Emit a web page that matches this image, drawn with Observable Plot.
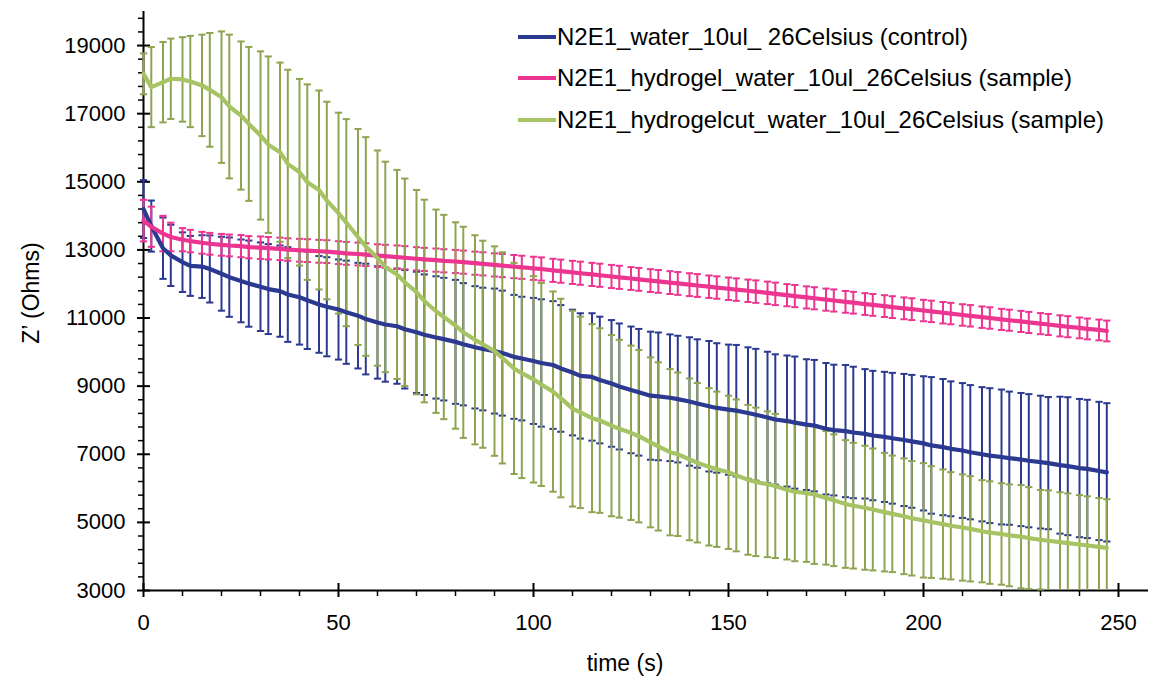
<!DOCTYPE html>
<html><head><meta charset="utf-8">
<script src="https://cdn.jsdelivr.net/npm/d3@7"></script>
<script src="https://cdn.jsdelivr.net/npm/@observablehq/plot@0.6"></script>
<style>
body{margin:0;background:#fff;}
#wrap{position:relative;width:1151px;height:683px;font-family:"Liberation Sans",Arial,sans-serif;color:#000;}
.lg{position:absolute;left:518px;height:24px;font-size:24px;line-height:24px;white-space:nowrap;display:flex;align-items:center;}
.lg .sw{display:inline-block;width:38px;height:4px;margin-right:1px;}
.ttl{position:absolute;font-size:23px;line-height:23px;white-space:nowrap;}
</style></head><body><div id="wrap"></div>
<script>
// ---- data ----
const time = [0,2,5,7,10,12,15,17,20,22,25,27,30,32,35,37,40,42,45,47,50,52,55,57,60,62,65,67,70,72,75,77,80,82,85,87,90,92,95,97,100,102,105,107,110,112,115,117,120,122,125,127,130,132,135,137,140,142,145,147,150,152,155,157,160,162,165,167,170,172,175,177,180,182,185,187,190,192,195,197,200,202,205,207,210,212,215,217,220,222,225,227,230,232,235,237,240,242,245,247];

const controlMean = [14200,13700,13050,12840,12640,12530,12510,12440,12300,12200,12090,12010,11920,11850,11790,11690,11610,11520,11400,11330,11250,11170,11070,10970,10870,10810,10760,10670,10580,10510,10430,10380,10300,10230,10140,10090,10030,9970,9860,9810,9740,9680,9620,9520,9400,9300,9270,9180,9080,8990,8890,8820,8720,8700,8660,8620,8550,8490,8410,8360,8310,8280,8210,8160,8080,8020,7975,7930,7870,7840,7750,7710,7680,7640,7600,7550,7510,7470,7420,7380,7320,7260,7210,7160,7110,7060,7000,6960,6920,6885,6845,6810,6770,6740,6680,6650,6595,6570,6510,6470];
const controlErr = [850,750,900,900,875,880,920,985,1085,1165,1215,1265,1300,1320,1340,1390,1390,1430,1420,1455,1470,1515,1550,1625,1650,1680,1690,1740,1780,1770,1795,1800,1820,1795,1795,1800,1835,1835,1820,1815,1850,1870,1875,1860,1845,1840,1870,1860,1860,1850,1860,1860,1880,1875,1860,1860,1885,1885,1915,1900,1910,1930,1930,1935,1930,1915,1925,1940,1920,1930,1930,1920,1940,1930,1900,1900,1910,1920,1940,1950,1970,2005,2000,1980,1980,1970,1970,1980,1980,1955,1955,1955,1950,1940,2010,2025,2030,2030,2030,2030];

const hydrogelMean = [13860,13680,13480,13380,13300,13260,13210,13180,13150,13130,13110,13080,13065,13050,13030,13010,12990,12980,12960,12950,12920,12900,12880,12860,12830,12815,12790,12770,12740,12720,12700,12680,12660,12640,12610,12590,12560,12540,12510,12490,12460,12440,12400,12375,12340,12315,12280,12255,12220,12195,12160,12135,12100,12075,12040,12015,11980,11955,11920,11895,11860,11835,11800,11775,11740,11710,11670,11645,11605,11580,11540,11515,11475,11450,11410,11385,11350,11320,11285,11260,11220,11195,11155,11130,11090,11065,11025,11000,10960,10935,10900,10870,10835,10810,10770,10745,10710,10680,10650,10620];
const hydrogelErr = [610,590,520,420,340,330,320,320,320,320,325,325,330,330,330,330,335,335,335,335,335,335,335,335,335,335,340,340,340,340,340,340,340,340,340,340,340,340,340,340,340,340,340,340,340,340,340,340,340,340,335,335,335,335,335,335,335,335,330,330,330,330,330,330,330,330,325,325,325,325,325,325,320,320,320,320,320,320,320,320,315,315,315,315,315,315,315,315,310,310,310,310,310,310,310,310,305,305,305,305];

const hydrogelcutMean = [18170,17780,17925,18025,18005,17945,17830,17700,17485,17210,16945,16700,16360,16090,15870,15525,15280,14990,14760,14450,14080,13800,13380,13100,12760,12500,12280,12050,11760,11500,11200,11030,10780,10580,10360,10230,10030,9830,9520,9380,9200,9050,8840,8650,8340,8230,8060,7990,7840,7750,7630,7530,7350,7230,7060,7000,6850,6750,6630,6560,6470,6380,6250,6190,6120,6070,5960,5900,5860,5820,5720,5650,5540,5490,5430,5380,5300,5250,5180,5120,5060,5010,4950,4900,4850,4810,4740,4700,4660,4620,4580,4540,4490,4460,4420,4390,4350,4320,4280,4250];
const hydrogelcutErr = [600,1175,1180,1180,1240,1340,1490,1670,1930,2110,2175,2260,2470,2590,2630,2765,2740,2870,2920,2900,2950,3040,3170,3210,3160,3090,3070,3045,3000,2975,2985,3000,3030,3100,3070,3040,3075,3100,3100,3080,3030,2980,2940,2915,2875,2810,2760,2710,2660,2610,2560,2530,2495,2470,2440,2400,2375,2340,2310,2280,2250,2230,2200,2180,2140,2115,2050,2040,2020,2040,1960,1935,1875,1845,1820,1790,1740,1710,1700,1680,1680,1640,1605,1575,1560,1545,1500,1505,1490,1495,1515,1495,1460,1480,1465,1460,1450,1445,1435,1430];

const seriesNames = ["N2E1_water_10ul_ 26Celsius (control)", "N2E1_hydrogel_water_10ul_26Celsius (sample)", "N2E1_hydrogelcut_water_10ul_26Celsius (sample)"];
const lineColors = ["#2b3990", "#ec3590", "#a6c463"];
const barColors = ["#2b3990", "#ec3590", "#8ea451"];
const xTicks = [0, 50, 100, 150, 200, 250];
const yTicks = [3000, 5000, 7000, 9000, 11000, 13000, 15000, 17000, 19000];
const xTitle = "time (s)";
const yTitle = "Z’ (Ohms)";

// ---- build ----
const means = [controlMean, hydrogelMean, hydrogelcutMean];
const errs = [controlErr, hydrogelErr, hydrogelcutErr];
const yMin = 3000, yMax = 20000;
const rows = seriesNames.map((name, k) => time.map((t, i) => ({k, t, m: means[k][i], e: errs[k][i]})));
const caps = rows.map(r => r.flatMap(d => [{t: d.t, v: d.m + d.e}, {t: d.t, v: d.m - d.e}]).filter(c => c.v >= yMin && c.v <= yMax));
const capSymbol = {draw(ctx, size) { const w = Math.sqrt(size / Math.PI); ctx.moveTo(-w, 0); ctx.lineTo(w, 0); }};
const xMinor = d3.range(10, 251, 10).filter(v => v % 50 !== 0);
const yMinor = d3.range(3400, 20000, 400).filter(v => (v - 3000) % 2000 !== 0);

const marks = [
  Plot.ruleY([yMin], {stroke: "#000", strokeWidth: 2}),
  Plot.ruleX([0], {stroke: "#000", strokeWidth: 2}),
  Plot.axisY({ticks: yTicks, tickSize: 13, dx: 7, fill: "none", stroke: "#000", strokeWidth: 2, label: null}),
  Plot.axisY({ticks: yMinor, tickSize: 6, dx: 1, fill: "none", stroke: "#000", strokeWidth: 1.5, label: null}),
  Plot.axisY({ticks: yTicks, tickSize: 0, tickPadding: 18, tickFormat: d => String(d), label: null, fill: "#000"}),
  Plot.axisX({ticks: xTicks, tickSize: 14, dy: -7, fill: "none", stroke: "#000", strokeWidth: 2, label: null}),
  Plot.axisX({ticks: xMinor, tickSize: 6, fill: "none", stroke: "#000", strokeWidth: 1.5, label: null}),
  Plot.axisX({ticks: xTicks, tickSize: 0, tickPadding: 24, tickFormat: d => String(d), label: null, fill: "#000"})
];
rows.forEach((r, k) => {
  marks.push(Plot.ruleX(r, {x: "t", y1: d => Math.max(d.m - d.e, yMin), y2: d => Math.min(d.m + d.e, yMax), stroke: barColors[k], strokeWidth: 2}));
  marks.push(Plot.dot(caps[k], {x: "t", y: "v", symbol: capSymbol, r: 3.6, stroke: barColors[k], strokeWidth: 2, fill: "none"}));
});
rows.forEach((r, k) => {
  marks.push(Plot.line(r, {x: "t", y: "m", stroke: lineColors[k], strokeWidth: 4.2, strokeLinejoin: "round", strokeLinecap: "round"}));
});

const chart = Plot.plot({
  width: 1151, height: 683,
  marginLeft: 143, marginRight: 3, marginTop: 11, marginBottom: 93,
  style: {fontFamily: '"Liberation Sans", Arial, sans-serif', fontSize: "22px", color: "#000", background: "#fff", overflow: "visible"},
  x: {type: "linear", domain: [0, 250], range: [143, 1118]},
  y: {type: "linear", domain: [yMin, yMax], range: [590, 11]},
  marks
});
const wrap = document.getElementById("wrap");
wrap.appendChild(chart);

const legendTops = [25, 66, 108];
seriesNames.forEach((name, k) => {
  const div = document.createElement("div");
  div.className = "lg";
  div.style.top = legendTops[k] + "px";
  const sw = document.createElement("span");
  sw.className = "sw"; sw.style.background = lineColors[k];
  div.appendChild(sw);
  div.appendChild(document.createTextNode(name));
  wrap.appendChild(div);
});
const xt = document.createElement("div");
xt.className = "ttl"; xt.textContent = xTitle;
xt.style.left = "625px"; xt.style.top = "652px"; xt.style.transform = "translateX(-50%)";
wrap.appendChild(xt);
const yt = document.createElement("div");
yt.className = "ttl"; yt.textContent = yTitle;
yt.style.left = "31px"; yt.style.top = "293px"; yt.style.transform = "translate(-50%,-50%) rotate(-90deg)";
wrap.appendChild(yt);
</script></body></html>
